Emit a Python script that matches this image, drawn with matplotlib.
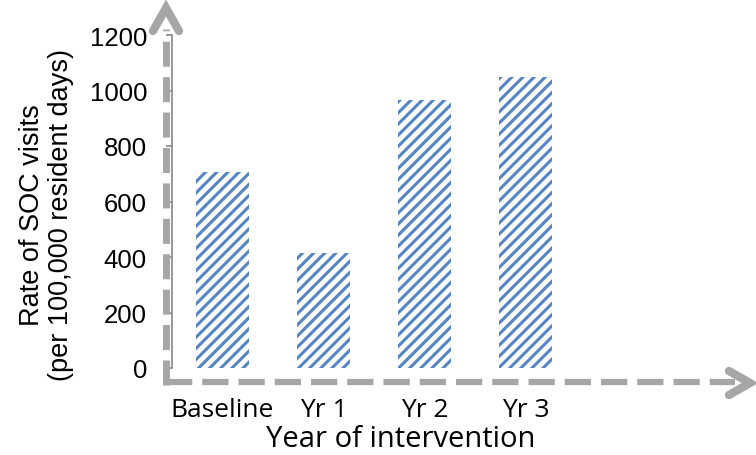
import matplotlib.pyplot as plt
from matplotlib.lines import Line2D

# data
years = ["Baseline", "Yr 1", "Yr 2", "Yr 3"]
soc_rate = [705, 415, 965, 1050]
yticks = [0, 200, 400, 600, 800, 1000, 1200]

W, H = 756, 456
plt.rcParams['hatch.linewidth'] = 2.2
blue = "#5585c5"
grey = "#a6a6a6"

fig = plt.figure(figsize=(W / 100, H / 100), dpi=100)
ax = fig.add_axes([172 / W, 1 - 369 / H, (657 - 172) / W, (369 - 36) / H])

xs = range(len(years))
ax.bar(xs, soc_rate, width=0.53, color="white", edgecolor=blue,
       hatch="///", linewidth=0)

ax.set_xlim(-0.5, 4.3)
ax.set_ylim(0, 1200)
ax.set_yticks(yticks)
ax.set_yticklabels([str(v) for v in yticks], fontfamily="Liberation Sans",
                   fontsize=18.5)
ax.set_xticks(list(xs))
ax.set_xticklabels(years, fontfamily="Open Sans", fontsize=19)
ax.tick_params(axis="x", length=0, pad=21)
ax.tick_params(axis="y", length=4, color="#888888", width=1.2, pad=14)

for s in ["top", "right", "bottom"]:
    ax.spines[s].set_visible(False)
ax.spines["left"].set_color("#888888")
ax.spines["left"].set_linewidth(1.2)

fig.text(401 / W, 1 - 440 / H, "Year of intervention", ha="center",
         va="center", fontfamily="Open Sans", fontsize=21)
fig.text(47 / W, 1 - 215 / H, "Rate of SOC visits\n(per 100,000 resident days)",
         rotation=90, ha="center", va="center", fontfamily="Liberation Sans",
         fontsize=19.5, linespacing=1.15)


# dashed arrows drawn in pixel coordinates
def px(xp, yp):
    return [x / W for x in xp], [1 - y / H for y in yp]


def add_line(xp, yp, **kw):
    x, y = px(xp, yp)
    fig.add_artist(Line2D(x, y, transform=fig.transFigure, color=grey, **kw))


add_line([166, 166], [386, 30], linewidth=5, linestyle=(0, (3.6, 1.5)))
add_line([166, 735], [383, 383], linewidth=4.5, linestyle=(0, (4.2, 1.6)))
add_line([153, 166, 179], [32, 9, 32], linewidth=6, solid_capstyle="round",
         solid_joinstyle="miter")
add_line([729, 750, 729], [372, 384, 396], linewidth=6, solid_capstyle="round",
         solid_joinstyle="miter")

fig.savefig("out.png", dpi=100)
